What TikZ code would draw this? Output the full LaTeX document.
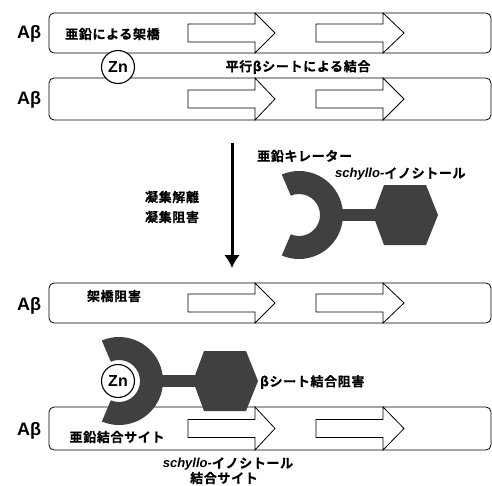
\documentclass[tikz,border=0pt]{standalone}
\usepackage{fontspec}
\usetikzlibrary{arrows.meta,calc}
\setmainfont{Liberation Sans}
\newfontfamily\jp{Noto Sans CJK JP}[BoldFont={* Bold},BoldFeatures={FakeBold=0.6,LetterSpace=5}]
\newcommand\schy{{\rmfamily\bfseries\itshape schyllo-}}
\begin{document}
\begin{tikzpicture}[x=1pt,y=-1pt,
  strandbox/.style={draw=black,line width=0.8pt,rounded corners=5pt},
  sheetarrow/.style={draw=black,line width=0.8pt,fill=white},
  jplabel/.style={font=\jp\bfseries\fontsize{13}{15}\selectfont,inner sep=0pt},
  ablabel/.style={font=\rmfamily\bfseries\fontsize{18}{20}\selectfont,inner sep=0pt},
  chel/.style={fill=black!75},
  znc/.style={circle,draw=black,line width=1.1pt,fill=white,minimum size=33pt,inner sep=0pt,font=\rmfamily\bfseries\fontsize{16}{17}\selectfont}]
\useasboundingbox (0,0) rectangle (492,485);
% strand macro: #1 top, #2 bottom
\newcommand\mystrand[2]{%
  \draw[strandbox] (49,#1) rectangle (491,#2);
  \pgfmathsetmacro\mid{(#1+#2)/2}
  \foreach \xa/\xb/\xt in {188/255/275,316/383/404}{
    \draw[sheetarrow] (\xa,\mid-9) -- (\xb,\mid-9) -- (\xb,#1) -- (\xt,\mid) -- (\xb,#2) -- (\xb,\mid+9) -- (\xa,\mid+9) -- cycle;
  }}
% chelator macro: #1 cx, #2 cy
\newcommand\mychel[2]{%
  \fill[chel] (#1,#2) ++(-113:44) arc[start angle=-113,end angle=113,radius=44]
    -- ($(#1,#2)+(113:21)$) arc[start angle=113,end angle=-113,radius=21] -- cycle;
  \fill[chel] (#1+40,#2-6) rectangle (#1+80,#2+6);
  \fill[chel] (#1+74,#2) -- (#1+85,#2-30) -- (#1+127,#2-30) -- (#1+139,#2) -- (#1+127,#2+30) -- (#1+85,#2+30) -- cycle;}
% top pair
\mystrand{13}{53}
\mystrand{78}{120}
\node[ablabel] (ab1) at (29,34) {Aβ};
\node[ablabel] (ab2) at (29,100) {Aβ};
\node[jplabel,anchor=west] (crosslink) at (65,34) {亜鉛による架橋};
\node[znc] (zn1) at (118,67) {Zn};
\node[jplabel] (parallel) at (298,67) {平行βシートによる結合};
% middle
\coordinate (arrs) at (232,143);
\coordinate (arre) at (232,268);
\draw[line width=3pt,-{Latex[length=13pt,width=16pt]}] (arrs) -- (arre);
\node[jplabel] (dissoc) at (172,197) {凝集解離};
\node[jplabel] (inhib) at (172,217) {凝集阻害};
\node[jplabel,anchor=west] (chelator) at (257,156) {亜鉛キレーター};
\node[jplabel,anchor=west] (scyllo1) at (335,174) {\schy イノシトール};
\mychel{299}{215}
% bottom pair
\mystrand{283}{323}
\mystrand{407}{450}
\node[ablabel] (ab3) at (29,306) {Aβ};
\node[ablabel] (ab4) at (29,431) {Aβ};
\node[jplabel] (crossinhib) at (114,296) {架橋阻害};
\mychel{119}{381}
\node[znc] (zn2) at (118,381) {Zn};
\node[jplabel,anchor=west] (betainhib) at (260,382) {βシート結合阻害};
\node[jplabel] (znsite) at (117,437) {亜鉛結合サイト};
\node[jplabel] (scyllo2) at (228,464) {\schy イノシトール};
\node[jplabel] (site2) at (224,478) {結合サイト};
\end{tikzpicture}
\end{document}
